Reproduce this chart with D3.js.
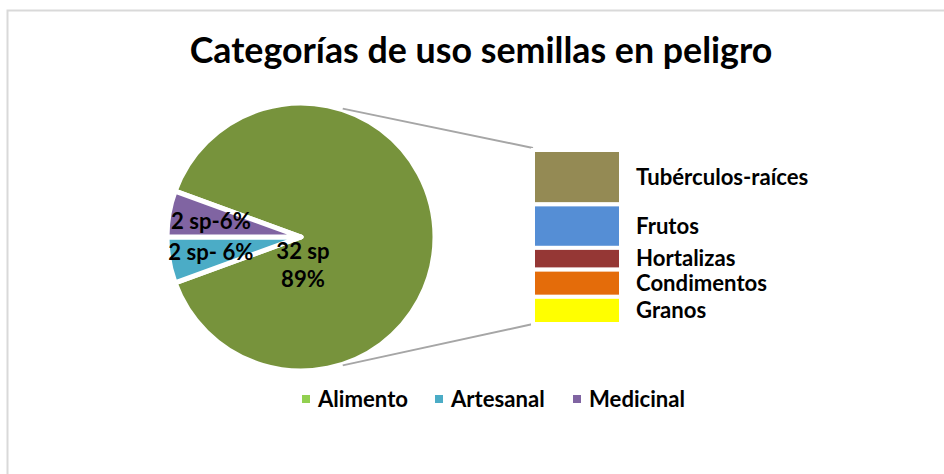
<!DOCTYPE html>
<html>
<head>
<meta charset="utf-8">
<script src="https://cdn.jsdelivr.net/npm/d3@7"></script>
<style>
  html, body { margin: 0; padding: 0; background: #fff; }
  svg text { font-family: Lato, "Open Sans", sans-serif; font-weight: bold; fill: #000; }
</style>
</head>
<body>
<div id="chart"></div>
<script>
// pie: uso de las semillas
var useCats   = ['Alimento', 'Artesanal', 'Medicinal'];
var useVals   = [32, 2, 2];
var useLabels = ['32 sp', '2 sp- 6%', '2 sp-6%'];
var usePct    = ['89%', '', ''];
var useColors = ['#77933C', '#4BACC6', '#8064A2'];
var legendColors = ['#92D050', '#4BACC6', '#8064A2'];

// bar: desglose de Alimento
var foodCats   = ['Tubérculos-raíces', 'Frutos', 'Hortalizas', 'Condimentos', 'Granos'];
var foodVals   = [10, 8, 4, 5, 5];
var foodColors = ['#948A54', '#558ED5', '#953735', '#E46C0A', '#FFFF00'];

var W = 944, H = 474;
var titleText = 'Categorías de uso semillas en peligro';

var svg = d3.select('#chart').append('svg')
  .attr('width', W)
  .attr('height', H);

// chart frame (only top and left visible)
svg.append('rect')
  .attr('x', 7.5).attr('y', 10.5)
  .attr('width', W + 20).attr('height', H + 20)
  .attr('fill', 'none')
  .attr('stroke', '#d9d9d9')
  .attr('stroke-width', 2);

var title = svg.append('text')
  .attr('x', 481).attr('y', 63)
  .attr('text-anchor', 'middle')
  .style('font-size', '32px')
  .text(titleText);

// scale all fonts so the title gets the reference width
var k = 583 / title.node().getComputedTextLength();
function fs(px) { return (px * k) + 'px'; }
title.style('font-size', fs(32));

var labelSize = 19.8;

// ---- pie ----
var cx = 301, cy = 237, r = 134;
var deg = Math.PI / 180;

var pie = d3.pie().sort(null)
  .startAngle(290 * deg)
  .endAngle(650 * deg);
var arcs = pie(useVals);

var arc = d3.arc().innerRadius(0).outerRadius(r);
var labelArc = d3.arc().innerRadius(r * 0.66).outerRadius(r * 0.66);

var pieG = svg.append('g').attr('transform', 'translate(' + cx + ',' + cy + ')');

// connector lines from the big slice to the bar
var connR = r + 1;
var conn = [18, 162].map(function(a) {
  return [connR * Math.sin(a * deg), -connR * Math.cos(a * deg)];
});

pieG.selectAll('path.slice').data(arcs).enter()
  .append('path')
    .attr('class', 'slice')
    .attr('d', arc)
    .attr('fill', function(d, i) { return useColors[i]; })
    .attr('stroke', '#fff')
    .attr('stroke-width', 5)
    .attr('stroke-linejoin', 'round');

// bar
var barX = 533, barW = 88;
var y = d3.scaleLinear()
  .domain([0, d3.sum(foodVals)])
  .range([150, 324]);

var cum = 0;
var segs = foodVals.map(function(v, i) {
  var s = { name: foodCats[i], y0: cum, y1: cum + v, color: foodColors[i] };
  cum += v;
  return s;
});

var barG = svg.append('g');

barG.selectAll('line.conn').data(conn).enter()
  .append('line')
    .attr('class', 'conn')
    .attr('x1', function(d) { return cx + d[0]; })
    .attr('y1', function(d) { return cy + d[1]; })
    .attr('x2', barX)
    .attr('y2', function(d, i) { return i === 0 ? y(0) - 2 : y(d3.sum(foodVals)); })
    .attr('stroke', '#a6a6a6')
    .attr('stroke-width', 2);

barG.selectAll('rect.seg').data(segs).enter()
  .append('rect')
    .attr('class', 'seg')
    .attr('x', barX)
    .attr('y', function(d) { return y(d.y0); })
    .attr('width', barW)
    .attr('height', function(d) { return y(d.y1) - y(d.y0); })
    .attr('fill', function(d) { return d.color; })
    .attr('stroke', '#fff')
    .attr('stroke-width', 4);

barG.selectAll('text.seglab').data(segs).enter()
  .append('text')
    .attr('class', 'seglab')
    .attr('x', 636)
    .attr('y', function(d) { return (y(d.y0) + y(d.y1)) / 2; })
    .attr('dy', '0.35em')
    .style('font-size', fs(labelSize))
    .text(function(d) { return d.name; });

// pie labels
pieG.selectAll('text.small').data(arcs.slice(1)).enter()
  .append('text')
    .attr('class', 'small')
    .attr('transform', function(d) {
      var c = labelArc.centroid(d);
      return 'translate(' + (c[0] - 3) + ',' + c[1] + ')';
    })
    .attr('text-anchor', 'middle')
    .attr('dy', '0.35em')
    .style('font-size', fs(labelSize))
    .text(function(d) { return useLabels[d.index]; });

var big = pieG.append('text')
  .attr('text-anchor', 'middle')
  .style('font-size', fs(labelSize));
big.append('tspan').attr('x', 2).attr('y', 22).text(useLabels[0]);
big.append('tspan').attr('x', 2).attr('y', 50).text(usePct[0]);

// legend
var legX = [302, 435, 573];
var legG = svg.append('g').attr('transform', 'translate(0,399)');
var legItem = legG.selectAll('g').data(useCats).enter()
  .append('g')
    .attr('transform', function(d, i) { return 'translate(' + legX[i] + ',0)'; });
legItem.append('rect')
  .attr('x', 0).attr('y', -4)
  .attr('width', 8).attr('height', 8)
  .attr('fill', function(d, i) { return legendColors[i]; });
legItem.append('text')
  .attr('x', 16)
  .attr('dy', '0.35em')
  .style('font-size', fs(labelSize))
  .text(function(d) { return d; });
</script>
</body>
</html>
